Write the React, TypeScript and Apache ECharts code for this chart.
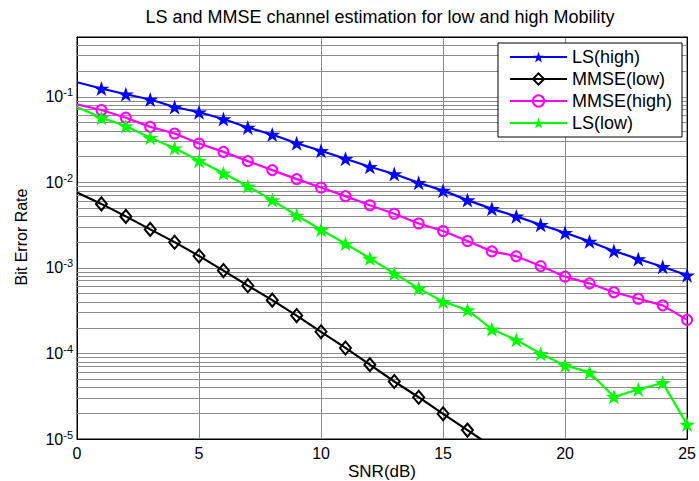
import { useEffect, useRef } from 'react';
import * as echarts from 'echarts';

// ---- data ----
const snr = [0, 1, 2, 3, 4, 5, 6, 7, 8, 9, 10, 11, 12, 13, 14, 15, 16, 17, 18, 19, 20, 21, 22, 23, 24, 25];

const lsHigh = [0.148, 0.125, 0.107, 0.093, 0.076, 0.066, 0.055, 0.0437, 0.0362, 0.0287, 0.0234, 0.0189, 0.0152, 0.0125, 0.0099, 0.008, 0.0062, 0.0049, 0.004, 0.0032, 0.00258, 0.00204, 0.00158, 0.00127, 0.00103, 0.00082];
const mmseLow = [0.0076, 0.0056, 0.004, 0.00282, 0.002, 0.00138, 0.00093, 0.00062, 0.00042, 0.000277, 0.000179, 0.000116, 0.000074, 0.000047, 0.0000308, 0.0000197, 0.0000127, 0.0000082];
const mmseHigh = [0.0816, 0.07, 0.057, 0.0445, 0.0372, 0.0284, 0.0227, 0.0177, 0.0139, 0.0109, 0.0087, 0.0069, 0.0054, 0.0043, 0.0033, 0.0027, 0.00206, 0.00156, 0.00137, 0.00105, 0.00079, 0.00066, 0.00052, 0.000436, 0.000365, 0.000247];
const lsLow = [0.0759, 0.057, 0.0456, 0.0333, 0.0251, 0.0179, 0.0128, 0.009, 0.0062, 0.0041, 0.00279, 0.00192, 0.00129, 0.00086, 0.000576, 0.000403, 0.000322, 0.000192, 0.000144, 0.000099, 0.0000725, 0.00006, 0.0000311, 0.0000379, 0.0000453, 0.0000148];

const legendNames = ['LS(high)', 'MMSE(low)', 'MMSE(high)', 'LS(low)'];
const xTickStep = 5;
const xRange = [0, 25];
const yRange = [1e-5, 0.5];
const decadeExponents = [-5, -4, -3, -2, -1];
const minorMultipliers = [2, 3, 4, 5, 6, 7, 8, 9];

const titleText = 'LS and MMSE channel estimation for low and high Mobility';
const xName = 'SNR(dB)';
const yName = 'Bit Error Rate';

// ---- styling ----
const FONT = '"Liberation Sans", Arial, Helvetica, sans-serif';
const STAR =
  'path://M0,-1L0.2245,-0.309L0.951,-0.309L0.363,0.118L0.588,0.809L0,0.382L-0.588,0.809L-0.363,0.118L-0.951,-0.309L-0.2245,-0.309Z';
const GRID_COLOR = '#8a8a8a';

function toData(vals: number[]) {
  return vals.map((v, i) =>
    i === 0 ? { value: [snr[i], Math.log10(v)], symbol: 'none' } : [snr[i], Math.log10(v)]
  );
}

const minorValues: number[] = [];
decadeExponents.forEach((e) => {
  minorMultipliers.forEach((k) => {
    const v = k * Math.pow(10, e);
    if (v < yRange[1] * 0.999) minorValues.push(Math.log10(v));
  });
});

export default function App() {
  const ref = useRef<HTMLDivElement>(null);
  useEffect(() => {
    const chart = echarts.init(ref.current!, null, { renderer: 'svg' });
    const yMin = Math.log10(yRange[0]);
    const yMax = Math.log10(yRange[1]);
    const axisLabelFmt = (v: number) => {
      if (Math.abs(v - Math.round(v)) > 1e-6) return '';
      return `{b|10}{s|${Math.round(v)}}`;
    };
    chart.setOption({
      animation: false,
      backgroundColor: '#fff',
      grid: {
        left: 77,
        right: 11,
        top: 37,
        bottom: 42,
        show: true,
        backgroundColor: '#fff',
        borderColor: '#000',
        borderWidth: 1,
      },
      legend: {
        orient: 'vertical',
        left: 498,
        top: 43,
        z: 20,
        itemWidth: 57,
        itemHeight: 14,
        itemGap: 4,
        padding: [5, 10, 5, 11],
        backgroundColor: '#fff',
        borderColor: '#000',
        borderWidth: 1,
        borderRadius: 0,
        selectedMode: false,
        textStyle: { fontFamily: FONT, fontSize: 18, color: '#000', lineHeight: 18 },
        data: legendNames,
      },
      xAxis: [
        {
          type: 'value',
          min: xRange[0],
          max: xRange[1],
          interval: xTickStep,
          axisLine: { show: true, onZero: false, lineStyle: { color: '#000', width: 1 } },
          axisTick: { show: false },
          splitLine: { show: true, lineStyle: { color: GRID_COLOR, width: 1 } },
          axisLabel: { margin: 6, fontSize: 16, color: '#000', fontFamily: FONT },
        },
        {
          type: 'value',
          position: 'top',
          min: xRange[0],
          max: xRange[1],
          interval: xTickStep,
          axisLine: { show: true, onZero: false, lineStyle: { color: '#000', width: 1 } },
          axisTick: { show: false },
          splitLine: { show: false },
          axisLabel: { show: false },
        },
      ],
      yAxis: [
        {
          type: 'value',
          min: yMin,
          max: yMax,
          interval: 1,
          axisLine: { show: true, onZero: false, lineStyle: { color: '#000', width: 1 } },
          axisTick: { show: false },
          splitLine: { show: true, lineStyle: { color: GRID_COLOR, width: 1 } },
          axisLabel: {
            margin: 4,
            color: '#000',
            fontFamily: FONT,
            formatter: axisLabelFmt,
            rich: {
              b: { fontSize: 16, fontFamily: FONT, color: '#000', lineHeight: 20, verticalAlign: 'middle' },
              s: { fontSize: 11, fontFamily: FONT, color: '#000', lineHeight: 8, verticalAlign: 'top' },
            },
          },
        },
        {
          type: 'value',
          position: 'right',
          min: yMin,
          max: yMax,
          interval: 1,
          axisLine: { show: true, onZero: false, lineStyle: { color: '#000', width: 1 } },
          axisTick: { show: false },
          splitLine: { show: false },
          axisLabel: { show: false },
        },
      ],
      graphic: [
        {
          type: 'text',
          x: 380,
          y: 17,
          style: {
            text: titleText,
            fontSize: 18,
            fontFamily: FONT,
            fill: '#000',
            align: 'center',
            verticalAlign: 'middle',
            textAlign: 'center',
            textVerticalAlign: 'middle',
          },
        },
        {
          type: 'text',
          x: 382,
          y: 471,
          style: {
            text: xName,
            fontSize: 17,
            fontFamily: FONT,
            fill: '#000',
            align: 'center',
            verticalAlign: 'middle',
            textAlign: 'center',
            textVerticalAlign: 'middle',
          },
        },
        {
          type: 'text',
          x: 21,
          y: 237,
          rotation: Math.PI / 2,
          style: {
            text: yName,
            fontSize: 16,
            fontFamily: FONT,
            fill: '#000',
            align: 'center',
            verticalAlign: 'middle',
            textAlign: 'center',
            textVerticalAlign: 'middle',
          },
        },
      ],
      series: [
        {
          type: 'line',
          name: 'minor-grid',
          data: [],
          silent: true,
          z: 1,
          markLine: {
            silent: true,
            z: 1,
            symbol: ['none', 'none'],
            label: { show: false },
            emphasis: { disabled: true },
            lineStyle: { color: GRID_COLOR, width: 1, type: 'solid' },
            data: minorValues.map((v) => ({ yAxis: v })),
          },
        },
        {
          type: 'line',
          name: legendNames[0],
          data: toData(lsHigh),
          symbol: STAR,
          symbolSize: [16, 15],
          lineStyle: { color: '#0000ff', width: 2.2 },
          itemStyle: { color: '#0000ff' },
          z: 3,
        },
        {
          type: 'line',
          name: legendNames[1],
          data: toData(mmseLow),
          symbol: 'diamond',
          symbolSize: [11, 13],
          lineStyle: { color: '#000000', width: 2.2 },
          itemStyle: { color: 'rgba(0,0,0,0)', borderColor: '#000000', borderWidth: 2 },
          z: 3,
        },
        {
          type: 'line',
          name: legendNames[2],
          data: toData(mmseHigh),
          symbol: 'circle',
          symbolSize: 10,
          lineStyle: { color: '#ff00ff', width: 2.2 },
          itemStyle: { color: 'rgba(0,0,0,0)', borderColor: '#ff00ff', borderWidth: 2 },
          z: 3,
        },
        {
          type: 'line',
          name: legendNames[3],
          data: toData(lsLow),
          symbol: STAR,
          symbolSize: [16, 15],
          lineStyle: { color: '#00ff00', width: 2.2 },
          itemStyle: { color: '#00ff00' },
          z: 3,
        },
      ],
    });
    return () => chart.dispose();
  }, []);
  return <div ref={ref} style={{ position: 'fixed', left: 0, top: 0, width: 699, height: 481 }} />;
}
